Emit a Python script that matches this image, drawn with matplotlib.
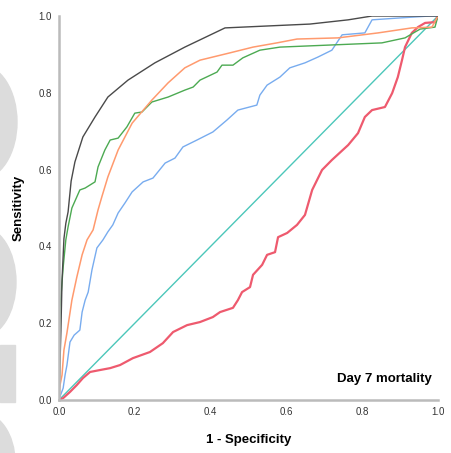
import numpy as np
import matplotlib
matplotlib.use("Agg")
import matplotlib.pyplot as plt
from matplotlib.patches import Ellipse, Rectangle
from matplotlib.transforms import IdentityTransform

plt.rcParams['font.family'] = ['Liberation Sans', 'DejaVu Sans']

# ROC curves, (1 - specificity, sensitivity)
black_x = [0, 0.005, 0.008, 0.013, 0.018, 0.024, 0.032, 0.042, 0.063, 0.095, 0.129,
           0.182, 0.253, 0.332, 0.438, 0.662, 0.763, 0.826, 1.0]
black_y = [0, 0.18, 0.31, 0.42, 0.46, 0.49, 0.57, 0.62, 0.685, 0.737, 0.789,
           0.833, 0.878, 0.919, 0.969, 0.979, 0.99, 1.0, 1.0]

orange_x = [0, 0.003, 0.008, 0.013, 0.021, 0.034, 0.047, 0.061, 0.074, 0.09, 0.103,
            0.113, 0.129, 0.156, 0.193, 0.245, 0.288, 0.332, 0.372, 0.451, 0.512,
            0.575, 0.628, 0.736, 0.842, 0.931, 0.984, 1.0]
orange_y = [0, 0.04, 0.065, 0.13, 0.175, 0.26, 0.32, 0.378, 0.417, 0.443, 0.495,
            0.529, 0.581, 0.651, 0.721, 0.781, 0.826, 0.865, 0.885, 0.904, 0.919,
            0.93, 0.94, 0.943, 0.956, 0.969, 0.971, 1.0]

green_x = [0, 0.003, 0.003, 0.011, 0.018, 0.024, 0.034, 0.047, 0.055, 0.069, 0.095,
           0.103, 0.121, 0.135, 0.156, 0.179, 0.2, 0.219, 0.245, 0.288, 0.332,
           0.354, 0.372, 0.417, 0.43, 0.459, 0.485, 0.53, 0.583, 0.852, 0.913,
           0.939, 0.953, 0.992, 1.0]
green_y = [0, 0.13, 0.242, 0.346, 0.417, 0.451, 0.5, 0.529, 0.547, 0.552, 0.568,
           0.607, 0.651, 0.677, 0.682, 0.711, 0.747, 0.75, 0.776, 0.789, 0.807,
           0.815, 0.833, 0.854, 0.872, 0.872, 0.891, 0.911, 0.919, 0.93, 0.943,
           0.958, 0.966, 0.971, 1.0]

blue_x = [0, 0.003, 0.011, 0.016, 0.021, 0.029, 0.04, 0.055, 0.061, 0.069, 0.077,
          0.087, 0.1, 0.116, 0.129, 0.142, 0.156, 0.174, 0.193, 0.222, 0.248,
          0.28, 0.306, 0.327, 0.364, 0.406, 0.443, 0.472, 0.522, 0.53, 0.549,
          0.583, 0.609, 0.649, 0.683, 0.72, 0.747, 0.807, 0.826, 0.9, 0.979, 1.0]
blue_y = [0, 0.01, 0.031, 0.065, 0.091, 0.151, 0.169, 0.182, 0.229, 0.26, 0.281,
          0.339, 0.396, 0.417, 0.438, 0.456, 0.487, 0.513, 0.542, 0.568, 0.578,
          0.617, 0.63, 0.659, 0.677, 0.698, 0.729, 0.755, 0.768, 0.794, 0.82,
          0.841, 0.865, 0.878, 0.893, 0.911, 0.951, 0.956, 0.99, 0.995, 1.0, 1.0]

red_x = [0, 0.011, 0.029, 0.047, 0.063, 0.082, 0.108, 0.135, 0.161, 0.195, 0.24,
         0.274, 0.301, 0.338, 0.372, 0.406, 0.425, 0.459, 0.472, 0.483, 0.504,
         0.512, 0.536, 0.549, 0.57, 0.578, 0.602, 0.628, 0.649, 0.668, 0.694,
         0.72, 0.763, 0.789, 0.807, 0.826, 0.86, 0.879, 0.894, 0.905, 0.913,
         0.931, 0.947, 0.966, 0.992, 1.0]
red_y = [0, 0.005, 0.021, 0.039, 0.057, 0.073, 0.078, 0.083, 0.091, 0.109, 0.125,
         0.148, 0.177, 0.195, 0.203, 0.216, 0.229, 0.24, 0.26, 0.281, 0.294,
         0.326, 0.352, 0.378, 0.385, 0.424, 0.435, 0.456, 0.482, 0.547, 0.599,
         0.625, 0.664, 0.695, 0.737, 0.755, 0.763, 0.799, 0.841, 0.885, 0.919,
         0.956, 0.971, 0.982, 0.984, 1.0]

ref_x = [0, 1]
ref_y = [0, 1]

ticks = [0.0, 0.2, 0.4, 0.6, 0.8, 1.0]
tick_labels = ["0.0", "0.2", "0.4", "0.6", "0.8", "1.0"]

W, H = 451, 453
fig = plt.figure(figsize=(W / 100, H / 100), dpi=100)
ax = fig.add_axes([59 / W, (H - 400) / H, 379 / W, 384 / H])

# grey shapes along the left edge
shade = "#dcdcdc"
px = IdentityTransform()
for cx, cy, w, h in [(-20, 122, 74, 115), (-20, 282, 72, 112), (-20, 462, 70, 100)]:
    fig.patches.append(Ellipse((cx, H - cy), w, h, transform=px, color=shade, zorder=0))
fig.patches.append(Rectangle((0, H - 402), 15, 57, transform=px, color=shade, zorder=0))
ax.patch.set_alpha(0)

ax.plot(ref_x, ref_y, color="#4cc7ba", lw=1.0)
ax.plot(red_x, red_y, color="#ee5a6e", lw=1.6)
ax.plot(blue_x, blue_y, color="#78acef", lw=1.0)
ax.plot(green_x, green_y, color="#4caa52", lw=1.0)
ax.plot(orange_x, orange_y, color="#ff9a6e", lw=1.1)
ax.plot(black_x, black_y, color="#4a4a4a", lw=1.0)

ax.set_xlim(0, 1)
ax.set_ylim(0, 1)
ax.set_xticks(ticks)
ax.set_xticklabels(tick_labels)
ax.set_yticks(ticks)
ax.set_yticklabels(tick_labels)
ax.tick_params(length=0, labelsize=7, colors="#333333", pad=5)
for s in ["top", "right"]:
    ax.spines[s].set_visible(False)
for s in ["left", "bottom"]:
    ax.spines[s].set_color("#bbbbbb")
    ax.spines[s].set_linewidth(1.8)

ax.set_xlabel("1 - Specificity", fontsize=9.5, fontweight="bold", labelpad=12)
ax.set_ylabel("Sensitivity", fontsize=9.5, fontweight="bold", labelpad=10)
ax.text(0.985, 0.04, "Day 7 mortality", transform=ax.transAxes, ha="right",
        va="bottom", fontsize=9.5, fontweight="bold")

fig.savefig("out.png", dpi=100)
